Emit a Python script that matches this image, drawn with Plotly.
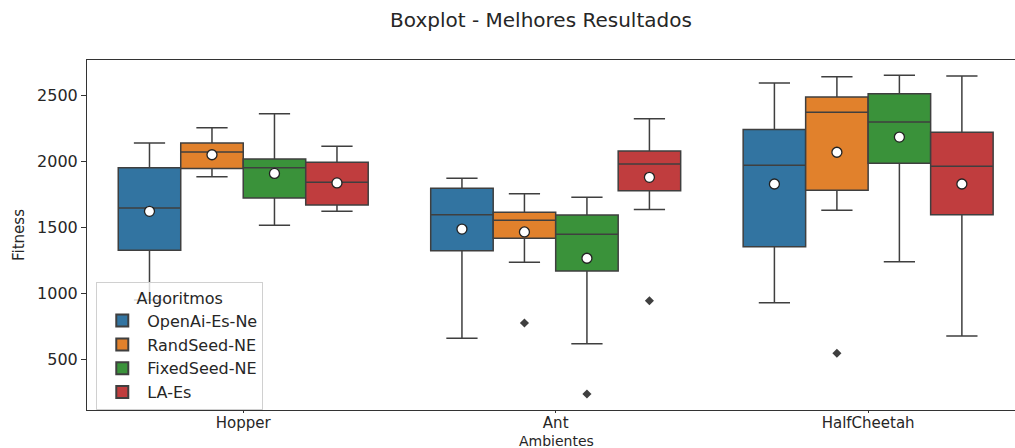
import plotly.graph_objects as go

ambientes = ["Hopper", "Ant", "HalfCheetah"]
algoritmos = ["OpenAi-Es-Ne", "RandSeed-NE", "FixedSeed-NE", "LA-Es"]
colors = ["#3274a1", "#e1812c", "#3a923a", "#c03d3e"]

# rows: algorithms, columns: ambientes (Hopper, Ant, HalfCheetah)
whisker_low = [[949, 660, 929], [1882, 1234, 1628], [1514, 619, 1239], [1620, 1633, 677]]
q1 = [[1325, 1322, 1352], [1945, 1416, 1779], [1721, 1169, 1983], [1668, 1776, 1595]]
median = [[1645, 1595, 1968], [2069, 1552, 2369], [1950, 1446, 2296], [1840, 1978, 1961]]
q3 = [[1950, 1794, 2240], [2137, 1613, 2485], [2016, 1592, 2510], [1991, 2076, 2218]]
whisker_high = [[2137, 1870, 2591], [2253, 1753, 2639], [2359, 1726, 2649], [2112, 2321, 2644]]
mean = [[1620, 1486, 1827], [2048, 1464, 2067], [1907, 1265, 2182], [1835, 1877, 1827]]

# outliers: (algorithm index, ambiente index, value)
outlier_alg = [1, 2, 3, 1]
outlier_env = [1, 1, 1, 2]
outlier_val = [775, 238, 944, 546]

line_col = "#3f3f3f"
box_w = 0.2
offsets = [-0.3, -0.1, 0.1, 0.3]

fig = go.Figure()
for a, name in enumerate(algoritmos):
    xs = [e + offsets[a] for e in range(len(ambientes))]
    fig.add_trace(go.Box(
        x=xs, q1=q1[a], median=median[a], q3=q3[a],
        lowerfence=whisker_low[a], upperfence=whisker_high[a],
        name=name, width=box_w, whiskerwidth=0.5,
        fillcolor=colors[a], line=dict(color=line_col, width=1.5),
        boxpoints=False, showlegend=True,
    ))

for a in range(len(algoritmos)):
    xs = [e + offsets[a] for e in range(len(ambientes))]
    fig.add_trace(go.Scatter(
        x=xs, y=mean[a], mode="markers", showlegend=False,
        marker=dict(symbol="circle", size=10, color="white",
                    line=dict(color="#222222", width=1.3)),
        hoverinfo="skip",
    ))

fig.add_trace(go.Scatter(
    x=[e + offsets[a] for a, e in zip(outlier_alg, outlier_env)],
    y=outlier_val, mode="markers", showlegend=False,
    marker=dict(symbol="diamond", size=7, color=line_col),
    hoverinfo="skip",
))

font_main = "DejaVu Sans, Verdana, sans-serif"
fig.update_layout(
    width=1015, height=448,
    margin=dict(l=87, r=0, t=60, b=38),
    paper_bgcolor="white", plot_bgcolor="white",
    font=dict(family=font_main, color="#262626", size=16),
    title=dict(text="Boxplot - Melhores Resultados", x=0.533, xref="container",
               xanchor="center", y=0.955, yref="container", yanchor="middle",
               font=dict(size=20, color="#262626")),
    boxmode="overlay",
    showlegend=True,
    legend=dict(
        title=dict(text="Algoritmos", side="top center", font=dict(size=16)),
        x=0.01, y=0.366, xanchor="left", yanchor="top",
        bgcolor="rgba(255,255,255,0.8)", bordercolor="#d0d0d0", borderwidth=1,
        font=dict(size=16), tracegroupgap=0, itemsizing="constant", itemwidth=40,
    ),
    xaxis=dict(
        range=[-0.5, 2.47], tickmode="array",
        tickvals=list(range(len(ambientes))), ticktext=ambientes,
        showgrid=False, zeroline=False, showline=True, linecolor="#333333",
        linewidth=1, mirror=True, ticks="outside", ticklen=2, tickcolor="#333333",
        tickfont=dict(size=15), ticklabelstandoff=-3,
    ),
    yaxis=dict(
        range=[117, 2765], tickvals=[500, 1000, 1500, 2000, 2500],
        showgrid=False, zeroline=False, showline=True, linecolor="#333333",
        linewidth=1, mirror=True, ticks="outside", ticklen=5, tickcolor="#333333",
        tickfont=dict(size=16),
        title=dict(text="Fitness", standoff=8, font=dict(size=15)),
    ),
    annotations=[dict(text="Ambientes", xref="paper", yref="paper", x=0.506, y=-0.089,
                      xanchor="center", yanchor="middle", showarrow=False,
                      font=dict(size=14))],
)

fig.write_html("out.html", config={"displayModeBar": False},
               post_script="document.body.style.margin='0';document.body.style.padding='0';")
